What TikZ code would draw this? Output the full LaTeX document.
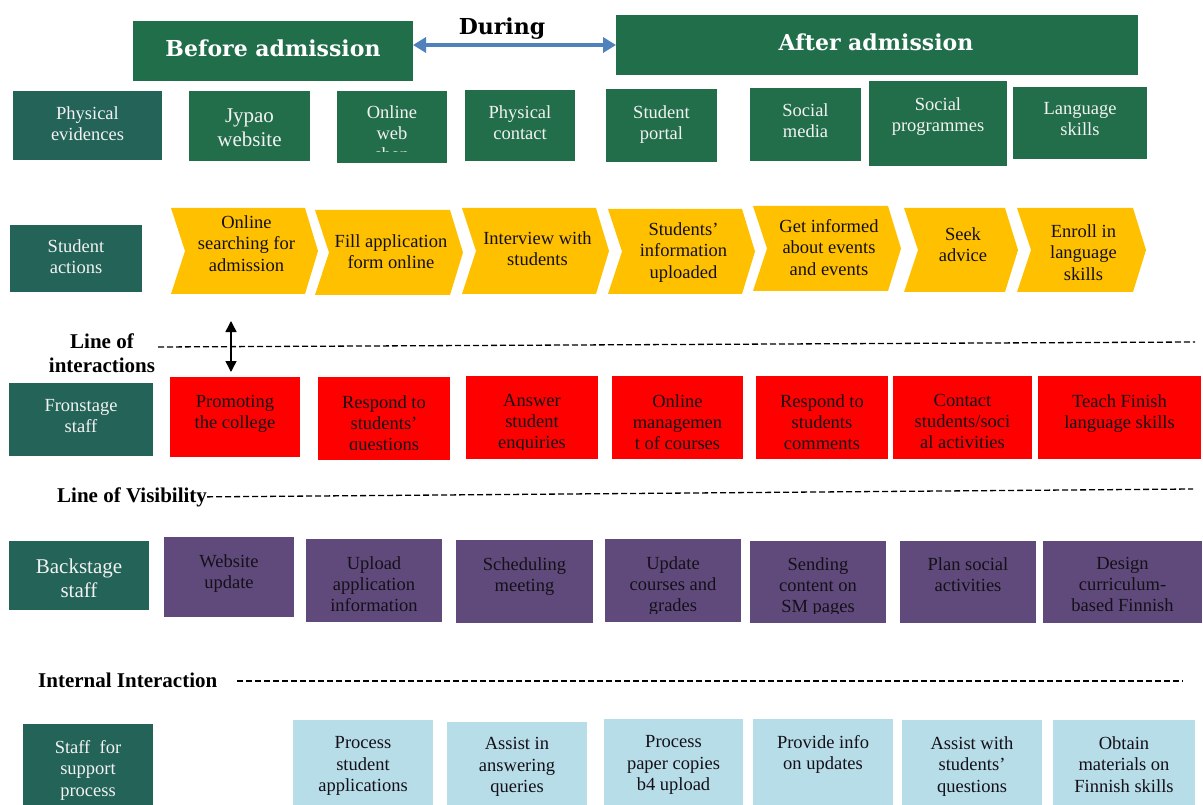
\documentclass[tikz,border=0pt]{standalone}
\usepackage{fontspec}
\setmainfont{Liberation Serif}
\newfontfamily\headfont{DejaVu Serif}
\usetikzlibrary{arrows.meta}

\definecolor{hdgreen}{HTML}{216E4A}
\definecolor{lblteal}{HTML}{236358}
\definecolor{evgreen}{HTML}{226E4A}
\definecolor{actyellow}{HTML}{FFC000}
\definecolor{frontred}{HTML}{FF0000}
\definecolor{backpurple}{HTML}{604A7B}
\definecolor{supblue}{HTML}{B7DDE8}
\definecolor{spanblue}{HTML}{4F81BD}
\definecolor{lighttext}{HTML}{F2F2F2}
\definecolor{darktext}{HTML}{141018}

\tikzset{
  cell/.style={draw=none, inner sep=0pt, outer sep=0pt},
  lane/.style={cell, fill=lblteal},
  evid/.style={cell, fill=evgreen},
  phase/.style={cell, fill=hdgreen},
  front/.style={cell, fill=frontred},
  back/.style={cell, fill=backpurple},
  support/.style={cell, fill=supblue},
  txt/.style={inner sep=0pt, align=center, font=\fontsize{18.5}{21}\selectfont},
  ltxt/.style={txt, text=lighttext},
  dtxt/.style={txt, text=darktext},
  bigl/.style={inner sep=0pt, align=center, text=lighttext, font=\fontsize{21}{23.5}\selectfont},
  lineLabel/.style={inner sep=0pt, align=center, font=\bfseries\fontsize{21}{24}\selectfont},
  phaseLabel/.style={inner sep=0pt, text=white, font=\headfont\bfseries\fontsize{22}{26}\selectfont},
  sep line/.style={dash pattern=on 6pt off 3pt, line width=1.3pt},
}

% a filled box given by its corners
\newcommand\cellbox[6]{%
  \node[#2, minimum width={(#5-#3)*1pt}, minimum height={(#6-#4)*1pt}]
    (#1) at ({(#3+#5)/2},{(#4+#6)/2}) {};}

% text of a box, top at a given y, cut off below a given y
\newcommand\celltext[5][ltxt]{%
  \begin{scope}
    \clip (#2.north west) rectangle (#2.east |- 0,#4);
    \node[#1, anchor=north] (#2-t) at (#2.north |- 0,#3) {#5};
  \end{scope}}

% arrow-shaped step of the student actions lane
\newcommand\chevron[5]{%
  \node[cell, minimum width={(#4-#2)*1pt}, minimum height={(#5-#3)*1pt}]
    (#1) at ({(#2+#4)/2},{(#3+#5)/2}) {};
  \fill[actyellow] (#1.north west) -- ([xshift=-13pt]#1.north east) -- (#1.east)
    -- ([xshift=-13pt]#1.south east) -- (#1.south west) -- ([xshift=14pt]#1.west) -- cycle;}

\begin{document}
\begin{tikzpicture}[x=1pt, y=-1pt]
\useasboundingbox (0,0) rectangle (1203,805);
\fill[white] (0,0) rectangle (1203,805);

% ---- phases
\cellbox{before}{phase}{133}{21}{413}{81}
\node[phaseLabel, anchor=base] (before-t) at (273,57) {Before admission};
\cellbox{after}{phase}{616}{15}{1138}{75}
\node[phaseLabel, anchor=base] (after-t) at (876,51) {After admission};
\node[phaseLabel, text=black, anchor=base] (during) at (502,35) {During};
\draw[spanblue, line width=4pt,
  {Triangle[length=13pt,width=15pt]}-{Triangle[length=13pt,width=15pt]}]
  (before.east |- after.west) -- (after.west);

% ---- physical evidences
\cellbox{pe}{lane}{13}{91}{162}{160}
\celltext{pe}{106}{160}{Physical\\evidences}
\cellbox{jyp}{evid}{189}{91}{310}{161}
\celltext[bigl]{jyp}{109}{161}{Jypao\\website}
\cellbox{shop}{evid}{337}{91}{447}{163}
\celltext{shop}{105}{152}{Online\\web\\shop}
\cellbox{pc}{evid}{465}{90}{575}{161}
\celltext{pc}{105}{161}{Physical\\contact}
\cellbox{sp}{evid}{606}{89}{717}{162}
\celltext{sp}{105}{162}{Student\\portal}
\cellbox{sm}{evid}{750}{88}{861}{161}
\celltext{sm}{103}{161}{Social\\media}
\cellbox{sprog}{evid}{869}{81}{1007}{166}
\celltext{sprog}{97}{166}{Social\\programmes}
\cellbox{lang}{evid}{1013}{87}{1147}{159}
\celltext{lang}{102}{159}{Language\\skills}

% ---- student actions
\cellbox{sa}{lane}{10}{225}{142}{292}
\celltext{sa}{239}{292}{Student\\actions}
\chevron{c1}{171}{208}{318}{294}
\chevron{c2}{315}{210}{463}{295}
\chevron{c3}{462}{208}{609}{294}
\chevron{c4}{608}{209}{755}{294}
\chevron{c5}{753}{206}{901}{291}
\chevron{c6}{904}{208}{1018}{292}
\chevron{c7}{1017}{208}{1146}{292}
\tikzset{ctxt/.style={dtxt, font=\fontsize{18.5}{21.5}\selectfont, xshift=2pt}}
\celltext[ctxt]{c1}{215}{294}{Online\\searching for\\admission}
\celltext[ctxt]{c2}{234}{295}{Fill application\\form online}
\celltext[ctxt]{c3}{231}{294}{Interview with\\students}
\celltext[ctxt]{c4}{222}{294}{Students’\\information\\uploaded}
\celltext[ctxt]{c5}{219}{291}{Get informed\\about events\\and events}
\celltext[ctxt]{c6}{227}{292}{Seek\\advice}
\celltext[ctxt]{c7}{224}{292}{Enroll in\\language\\skills}

% ---- line of interactions
\node[lineLabel, anchor=north] (loi) at (102,334) {Line of\\interactions};
\coordinate (loi-a) at (158,347);
\coordinate (loi-b) at (1195,342);
\draw[sep line] (loi-a) -- (loi-b);
\coordinate (ia-top) at (231,321);
\coordinate (ia-bot) at (231,372);
\draw[line width=1.5pt,
  {Triangle[length=11pt,width=11pt]}-{Triangle[length=11pt,width=11pt]}]
  (ia-top) -- (ia-bot);

% ---- frontstage staff
\cellbox{fs}{lane}{9}{383}{153}{456}
\celltext{fs}{399}{456}{Fronstage\\staff}
\cellbox{r1}{front}{170}{377}{300}{457}
\celltext[dtxt]{r1}{395}{449}{Promoting\\the college}
\cellbox{r2}{front}{318}{377}{450}{460}
\celltext[dtxt]{r2}{395}{449}{Respond to\\students’\\questions}
\cellbox{r3}{front}{466}{376}{598}{459}
\celltext[dtxt]{r3}{394}{449}{Answer\\student\\enquiries}
\cellbox{r4}{front}{612}{376}{743}{459}
\celltext[dtxt]{r4}{394}{450}{Online\\managemen\\t of courses}
\cellbox{r5}{front}{756}{376}{888}{459}
\celltext[dtxt]{r5}{394}{450}{Respond to\\students\\comments}
\cellbox{r6}{front}{893}{376}{1032}{459}
\celltext[dtxt]{r6}{394}{450}{Contact\\students/soci\\al activities}
\cellbox{r7}{front}{1038}{376}{1201}{459}
\celltext[dtxt]{r7}{394}{450}{Teach Finish\\language skills}

% ---- line of visibility
\node[lineLabel, anchor=base west] (lov) at (57,502) {Line of Visibility};
\coordinate (lov-b) at (1193,489);
\draw[sep line] (lov.east) -- (lov-b);

% ---- backstage staff
\cellbox{bs}{lane}{9}{541}{149}{610}
\celltext[bigl]{bs}{559}{610}{Backstage\\staff}
\cellbox{p1}{back}{164}{537}{294}{617}
\celltext[dtxt]{p1}{554}{613}{Website\\update}
\cellbox{p2}{back}{306}{539}{442}{622}
\celltext[dtxt]{p2}{556}{613}{Upload\\application\\information}
\cellbox{p3}{back}{456}{540}{593}{623}
\celltext[dtxt]{p3}{557}{613}{Scheduling\\meeting}
\cellbox{p4}{back}{605}{539}{741}{622}
\celltext[dtxt]{p4}{556}{613}{Update\\courses and\\grades}
\cellbox{p5}{back}{750}{541}{886}{623}
\celltext[dtxt]{p5}{557}{613}{Sending\\content on\\SM pages}
\cellbox{p6}{back}{900}{541}{1036}{623}
\celltext[dtxt]{p6}{557}{613}{Plan social\\activities}
\cellbox{p7}{back}{1043}{541}{1202}{623}
\celltext[dtxt]{p7}{557}{613}{Design\\curriculum-\\based Finnish}

% ---- internal interaction
\node[lineLabel, anchor=base west] (ii) at (38,687) {Internal Interaction};
\coordinate (ii-a) at (237,681);
\coordinate (ii-b) at (1183,681);
\draw[sep line] (ii-a) -- (ii-b);

% ---- support processes
\tikzset{stxt/.style={dtxt, font=\fontsize{18.5}{21.7}\selectfont}}
\cellbox{ss}{lane}{23}{724}{153}{805}
\celltext[ltxt, font=\fontsize{18.5}{21.7}\selectfont]{ss}{740}{805}{Staff~ for\\support\\process}
\cellbox{b1}{support}{293}{720}{433}{805}
\celltext[stxt]{b1}{736}{805}{Process\\student\\applications}
\cellbox{b2}{support}{447}{722}{587}{805}
\celltext[stxt]{b2}{737}{805}{Assist in\\answering\\queries}
\cellbox{b3}{support}{604}{719}{743}{805}
\celltext[stxt]{b3}{735}{805}{Process\\paper copies\\b4 upload}
\cellbox{b4}{support}{753}{719}{893}{805}
\celltext[stxt]{b4}{735}{805}{Provide info\\on updates}
\cellbox{b5}{support}{902}{720}{1042}{805}
\celltext[stxt]{b5}{736}{805}{Assist with\\students’\\questions}
\cellbox{b6}{support}{1053}{720}{1195}{805}
\celltext[stxt]{b6}{736}{805}{Obtain\\materials on\\Finnish skills}
\end{tikzpicture}
\end{document}
